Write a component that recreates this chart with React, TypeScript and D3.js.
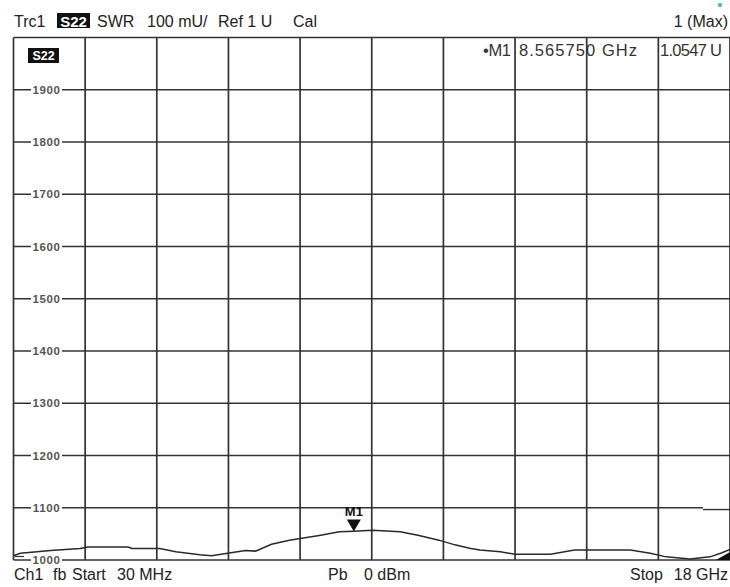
import React from "react";
import * as d3 from "d3";

const freqGHz = [0.03, 0.2, 0.96, 1.7, 1.9, 2.9, 3.0, 3.7, 4.1, 4.7, 5.0, 5.4, 5.85, 6.1, 6.5, 6.95, 7.22, 7.7, 8.2, 8.57, 9.03, 9.73, 10.2, 10.7, 11.1, 11.5, 11.73, 12.24, 12.6, 13.5, 14.1, 14.4, 15.5, 16.0, 16.4, 17.0, 17.5, 17.8, 18.0];
const swrMU = [1008, 1013, 1018, 1022, 1025, 1025, 1022, 1022, 1016, 1010, 1008, 1013, 1018, 1017, 1030, 1038, 1041, 1047, 1054, 1055, 1057, 1054, 1047, 1038, 1029, 1022, 1019, 1016, 1011, 1011, 1019, 1019, 1019, 1013, 1006, 1002, 1006, 1014, 1020];
const yTicks = [1000, 1100, 1200, 1300, 1400, 1500, 1600, 1700, 1800, 1900];
const xDivisions = d3.range(11);
const startGHz = 0.03;
const stopGHz = 18;
const markerFreq = 8.56575;
const markerValue = 1054.7;

const FONT = "'Liberation Sans', Arial, sans-serif";
const GRID = "#333";

export default function App() {
  const x = d3.scaleLinear().domain([startGHz, stopGHz]).range([13.5, 730]);
  const y = d3.scaleLinear().domain([1000, 2000]).range([560, 37.5]);
  const line = d3
    .line<number>()
    .x((_, i) => x(freqGHz[i]))
    .y((d) => y(d));
  const mx = x(markerFreq);
  const my = y(markerValue);
  const divF = (i: number) => startGHz + (i * (stopGHz - startGHz)) / 10;

  return (
    <svg
      width={730}
      height={587}
      style={{ position: "absolute", left: 0, top: 0, background: "#fff" }}
      fontFamily={FONT}
    >
      <rect width={730} height={587} fill="#fff" />
      {/* horizontal grid */}
      {d3.range(11).map((i) => {
        const v = 1000 + i * 100;
        return (
          <line key={"h" + i} x1={13.5} x2={i === 1 ? 703 : 730} y1={y(v)} y2={y(v)} stroke={GRID} strokeWidth={1.7} />
        );
      })}
      <line x1={703} x2={730} y1={y(1100) + 1.8} y2={y(1100) + 1.8} stroke={GRID} strokeWidth={1.4} />
      {/* vertical grid */}
      {xDivisions.map((i) => (
        <line key={"v" + i} x1={x(divF(i))} x2={x(divF(i))} y1={y(2000)} y2={y(1000)} stroke={GRID} strokeWidth={1.7} />
      ))}
      {/* y labels */}
      {yTicks.map((t) => (
        <g key={"yl" + t}>
          <rect x={31} y={y(t) - 6} width={31} height={12} fill="#fff" />
          <text
            x={46.5}
            y={y(t) + 4}
            fontSize={11.5}
            fontWeight="bold"
            fill="#555"
            textAnchor="middle"
            letterSpacing={0.6}
          >
            {t}
          </text>
        </g>
      ))}
      {/* ref marker at bottom left */}
      <line x1={15} x2={24} y1={y(1000) - 3.5} y2={y(1000) - 3.5} stroke={GRID} strokeWidth={1.2} />
      {/* trace */}
      <path d={line(swrMU) || ""} fill="none" stroke="#2a2a2a" strokeWidth={1.5} />
      <path d="M716,560 L730,552 L730,560 Z" fill="#111" />
      {/* marker */}
      <path d={`M${mx - 7},${my - 12} L${mx + 7},${my - 12} L${mx},${my} Z`} fill="#111" />
      <text x={mx} y={my - 15} fontSize={13} fontWeight="bold" textAnchor="middle" fill="#111">
        M1
      </text>
      {/* in-grid S22 label */}
      <rect x={28} y={48} width={31} height={15} fill="#111" />
      <text x={43.5} y={60} fontSize={12.5} fill="#fff" textAnchor="middle" fontWeight="bold">
        S22
      </text>
      {/* header */}
      <text x={14} y={27} fontSize={16} fill="#222">Trc1</text>
      <rect x={57} y={13} width={33} height={15} fill="#111" />
      <text x={73.5} y={26.5} fontSize={15} fill="#fff" textAnchor="middle" fontWeight="bold">S22</text>
      <text x={97} y={27} fontSize={16} fill="#222">SWR</text>
      <text x={147} y={27} fontSize={16} fill="#222">100 mU/</text>
      <text x={218} y={27} fontSize={16} fill="#222">Ref 1 U</text>
      <text x={293} y={27} fontSize={16} fill="#222">Cal</text>
      <text x={728} y={27} fontSize={16} fill="#222" textAnchor="end">1 (Max)</text>
      <circle cx={720} cy={5} r={2.2} fill="#5ab4d6" />
      {/* marker readout */}
      <text x={483} y={56} fontSize={16.5} fill="#333" textLength={28} lengthAdjust="spacing">•M1</text>
      <text x={519} y={56} fontSize={16.5} fill="#333" textLength={118} lengthAdjust="spacing">8.565750 GHz</text>
      <text x={660} y={56} fontSize={16.5} fill="#333" textLength={62} lengthAdjust="spacing">1.0547 U</text>
      {/* footer */}
      <text x={14} y={580} fontSize={16} fill="#222">Ch1</text>
      <text x={53} y={580} fontSize={16} fill="#222">fb</text>
      <text x={72} y={580} fontSize={16} fill="#222">Start</text>
      <text x={117} y={580} fontSize={16} fill="#222">30 MHz</text>
      <text x={328} y={580} fontSize={16} fill="#222">Pb</text>
      <text x={364} y={580} fontSize={16} fill="#222">0 dBm</text>
      <text x={630} y={580} fontSize={16} fill="#222">Stop</text>
      <text x={728} y={580} fontSize={16} fill="#222" textAnchor="end">18 GHz</text>
    </svg>
  );
}
